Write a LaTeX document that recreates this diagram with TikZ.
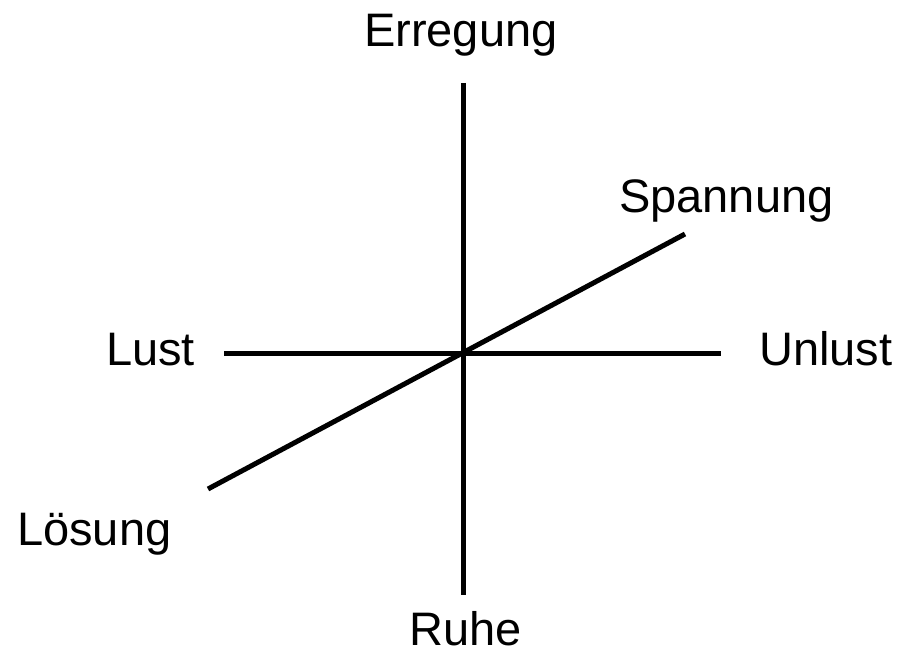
\documentclass[tikz,border=0pt]{standalone}
\usepackage{fontspec}
\setmainfont{Liberation Sans}
\definecolor{ink}{HTML}{000000}
\tikzset{
 pole/.style={anchor=base west,inner sep=0pt,text=ink,font=\fontsize{47}{56}\selectfont},
 axis/.style={draw=ink,line width=5pt}
}

\begin{document}
\begin{tikzpicture}[x=1pt,y=-1pt]
  \useasboundingbox (0,0) rectangle (897,655);

  \coordinate (top) at (463,83);
  \coordinate (bottom) at (463,595);
  \coordinate (left) at (224,353);
  \coordinate (right) at (721,353);
  \coordinate (low) at (208,489);
  \coordinate (high) at (685,234);

  \draw[axis] (top) -- (bottom);
  \draw[axis] (left) -- (right);
  \draw[axis] (low) -- (high);

  \node[pole] (erregung) at (364,47) {Erregung};
  \node[pole] (ruhe) at (409,645) {Ruhe};
  \node[pole] (lust) at (106,365) {Lust};
  \node[pole] (unlust) at (759,365) {Unlust};
  \node[pole] (spannung) at (619,213) {Spannung};
  \node[pole] (loesung) at (17,545) {Lösung};
\end{tikzpicture}
\end{document}
